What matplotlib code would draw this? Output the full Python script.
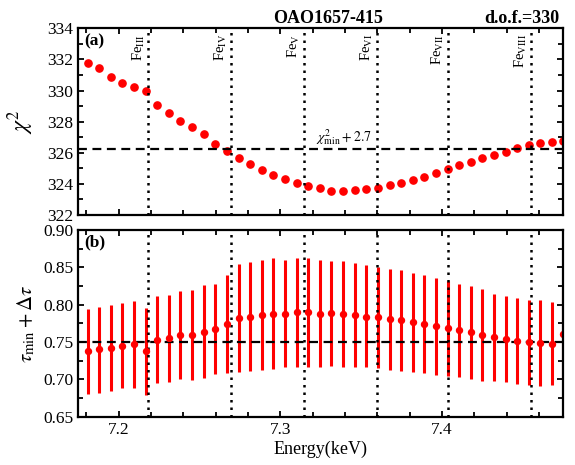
import numpy as np
import matplotlib
matplotlib.use('Agg')
import matplotlib.pyplot as plt
from matplotlib.ticker import MultipleLocator

plt.rcParams['font.family'] = 'serif'
plt.rcParams['font.serif'] = ['Liberation Serif', 'DejaVu Serif']
plt.rcParams['mathtext.fontset'] = 'stix'

# ---------------------------------------------------------------------------
# data
# ---------------------------------------------------------------------------
energy = [7.1808, 7.1880, 7.1952, 7.2023, 7.2095, 7.2167, 7.2239, 7.2311,
          7.2382, 7.2454, 7.2526, 7.2598, 7.2670, 7.2741, 7.2813, 7.2885,
          7.2957, 7.3029, 7.3100, 7.3172, 7.3244, 7.3316, 7.3388, 7.3459,
          7.3531, 7.3603, 7.3675, 7.3747, 7.3818, 7.3890, 7.3962, 7.4034,
          7.4106, 7.4177, 7.4249, 7.4321, 7.4393, 7.4465, 7.4536, 7.4608,
          7.4680, 7.4748]

chi2 = [331.75, 331.47, 330.89, 330.47, 330.21, 329.97, 329.05, 328.58,
        328.06, 327.68, 327.19, 326.56, 326.11, 325.66, 325.30, 324.89,
        324.59, 324.30, 324.08, 323.87, 323.72, 323.56, 323.54, 323.59,
        323.65, 323.76, 323.91, 324.08, 324.25, 324.46, 324.72, 324.94,
        325.20, 325.43, 325.65, 325.88, 326.07, 326.29, 326.50, 326.61,
        326.67, 326.76]

tau = [0.738, 0.740, 0.742, 0.745, 0.748, 0.738, 0.753, 0.756, 0.759, 0.760,
       0.764, 0.768, 0.774, 0.782, 0.784, 0.786, 0.788, 0.787, 0.790, 0.790,
       0.788, 0.789, 0.788, 0.786, 0.784, 0.783, 0.781, 0.779, 0.777, 0.774,
       0.771, 0.769, 0.766, 0.763, 0.759, 0.757, 0.754, 0.752, 0.750, 0.749,
       0.748, 0.761]
tau_hi = [0.794, 0.797, 0.799, 0.802, 0.805, 0.796, 0.811, 0.813, 0.818, 0.820,
          0.826, 0.828, 0.840, 0.854, 0.857, 0.860, 0.863, 0.860, 0.863, 0.863,
          0.860, 0.858, 0.858, 0.856, 0.853, 0.851, 0.848, 0.846, 0.843, 0.840,
          0.836, 0.832, 0.828, 0.825, 0.821, 0.814, 0.811, 0.809, 0.806, 0.806,
          0.804, 0.820]
tau_lo = [0.681, 0.682, 0.685, 0.688, 0.689, 0.679, 0.695, 0.697, 0.700, 0.699,
          0.702, 0.707, 0.709, 0.710, 0.711, 0.713, 0.714, 0.716, 0.716, 0.717,
          0.717, 0.718, 0.717, 0.717, 0.716, 0.715, 0.712, 0.711, 0.710, 0.708,
          0.706, 0.705, 0.703, 0.700, 0.698, 0.698, 0.696, 0.694, 0.692, 0.691,
          0.692, 0.700]

fe_edges = [7.2184, 7.2696, 7.3146, 7.3595, 7.4035, 7.4550]
fe_labels = [r'Fe$_{\rm III}$', r'Fe$_{\rm IV}$', r'Fe$_{\rm V}$',
             r'Fe$_{\rm VI}$', r'Fe$_{\rm VII}$', r'Fe$_{\rm VIII}$']

chi2_level = 326.24
tau_ref = 0.75

# ---------------------------------------------------------------------------
# figure
# ---------------------------------------------------------------------------
fig = plt.figure(figsize=(5.75, 4.65), dpi=100)
ax1 = fig.add_axes([0.1362, 0.5376, 0.8435, 0.4015])
ax2 = fig.add_axes([0.1362, 0.1039, 0.8435, 0.4015])

tau = np.array(tau)
yerr = [tau - np.array(tau_lo), np.array(tau_hi) - tau]

# (a) chi^2 curve
ax1.plot(energy, chi2, 'o', color='red', ms=5.2, mec='red')
ax1.axhline(chi2_level, color='black', ls=(0, (4, 2.5)), lw=1.6)
ax1.text(7.339, chi2_level + 0.12, r'$\chi^2_{\rm min}+2.7$', fontsize=10,
         ha='center', va='bottom')

# (b) tau with errors
ax2.errorbar(energy, tau, yerr=yerr, fmt='o', color='red', ms=4.3,
             elinewidth=2.2, capsize=0)
ax2.axhline(tau_ref, color='black', ls=(0, (4, 2.5)), lw=1.6)

for e, lab in zip(fe_edges, fe_labels):
    ax1.axvline(e, color='black', ls=(0, (1, 2)), lw=1.8)
    ax2.axvline(e, color='black', ls=(0, (1, 2)), lw=1.8)
    ax1.text(e - 0.0012, 333.65, lab, rotation=90, fontsize=10.5,
             ha='right', va='top')

for ax in (ax1, ax2):
    ax.set_xlim(7.175, 7.475)
    ax.xaxis.set_major_locator(MultipleLocator(0.1))
    ax.xaxis.set_minor_locator(MultipleLocator(0.02))
    ax.tick_params(which='both', direction='in', top=True, right=True,
                   labelsize=12.5, width=1.3)
    ax.tick_params(which='major', length=4.5)
    ax.tick_params(which='minor', length=3.5)
    for s in ax.spines.values():
        s.set_linewidth(1.6)

ax1.set_ylim(322, 334)
ax1.yaxis.set_major_locator(MultipleLocator(2))
ax1.yaxis.set_minor_locator(MultipleLocator(1))
ax1.tick_params(labelbottom=False)
ax1.set_ylabel(r'$\chi^2$', fontsize=17, labelpad=8)

ax2.set_ylim(0.65, 0.90)
ax2.yaxis.set_major_locator(MultipleLocator(0.05))
ax2.yaxis.set_minor_locator(MultipleLocator(0.025))
ax2.yaxis.set_major_formatter(matplotlib.ticker.FormatStrFormatter('%.2f'))
ax2.set_ylabel(r'$\tau_{\rm min}+\Delta\tau$', fontsize=15, labelpad=4)
ax2.set_xlabel('Energy(keV)', fontsize=13, labelpad=2)

ax1.text(0.012, 0.975, '(a)', transform=ax1.transAxes, fontsize=12.5,
         fontweight='bold', ha='left', va='top')
ax2.text(0.012, 0.975, '(b)', transform=ax2.transAxes, fontsize=12.5,
         fontweight='bold', ha='left', va='top')

fig.text(328 / 575, 1 - 23 / 465, 'OAO1657-415', fontsize=13,
         fontweight='bold', ha='center', va='baseline')
fig.text(559 / 575, 1 - 23 / 465, 'd.o.f.=330', fontsize=13,
         fontweight='bold', ha='right', va='baseline')

plt.savefig('out.png', dpi=100)
plt.close()
